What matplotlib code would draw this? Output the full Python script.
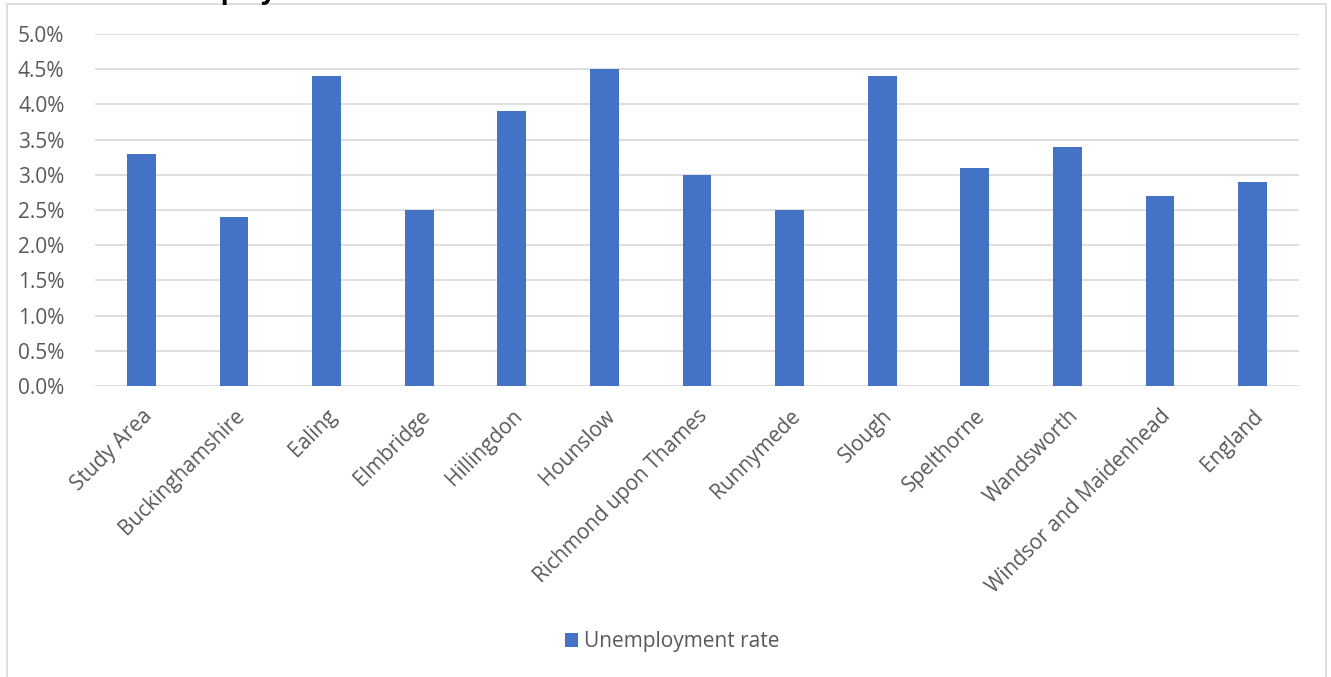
import matplotlib
matplotlib.use("Agg")
import matplotlib.pyplot as plt
from matplotlib.patches import Rectangle
from matplotlib.ticker import FuncFormatter, MultipleLocator

categories = ["Study Area", "Buckinghamshire", "Ealing", "Elmbridge", "Hillingdon",
              "Hounslow", "Richmond upon Thames", "Runnymede", "Slough", "Spelthorne",
              "Wandsworth", "Windsor and Maidenhead", "England"]
rates = [0.033, 0.024, 0.044, 0.025, 0.039, 0.045, 0.030, 0.025, 0.044, 0.031,
         0.034, 0.027, 0.029]
series_name = "Unemployment rate"
title = "Unemployment rate"

plt.rcParams['font.family'] = ['Open Sans', 'DejaVu Sans']
W, H = 1331, 677
fig = plt.figure(figsize=(W/100, H/100), dpi=100)
ax = fig.add_axes([95/W, 1-386/H, (1299-95)/W, (386-34)/H])

x = range(len(categories))
ax.bar(x, rates, width=0.31, color="#4472C4", label=series_name, zorder=3)
ax.set_xlim(-0.5, len(categories)-0.5)
ax.set_ylim(0, 0.05)
ax.yaxis.set_major_locator(MultipleLocator(0.005))
ax.yaxis.set_major_formatter(FuncFormatter(lambda v, p: f"{v*100:.1f}%"))
ax.grid(axis='y', color="#D9D9D9", linewidth=1.2, zorder=0)
for s in ax.spines.values():
    s.set_visible(False)
ax.tick_params(axis='both', length=0, colors="#595959", labelsize=15)
ax.tick_params(axis='y', pad=22)
ax.set_xticks(list(x))
ax.set_xticklabels(categories, rotation=45, ha='right', rotation_mode='anchor')
ax.tick_params(axis='x', pad=14)

leg = fig.legend(loc='center', bbox_to_anchor=(672/W, 1-642/H), frameon=False,
                 fontsize=15, handlelength=0.65, handleheight=0.65, handletextpad=0.25,
                 labelcolor="#595959")

fig.patches.append(Rectangle((7/W, -0.1), (1326-7)/W, 1.1-4/H, transform=fig.transFigure,
                             fill=False, edgecolor="#D9D9D9", linewidth=1.2))
fig.text(142/W, 1+1/H, title, fontsize=19, fontweight='bold', color='black', va='baseline')

fig.savefig("out.png", dpi=100)
